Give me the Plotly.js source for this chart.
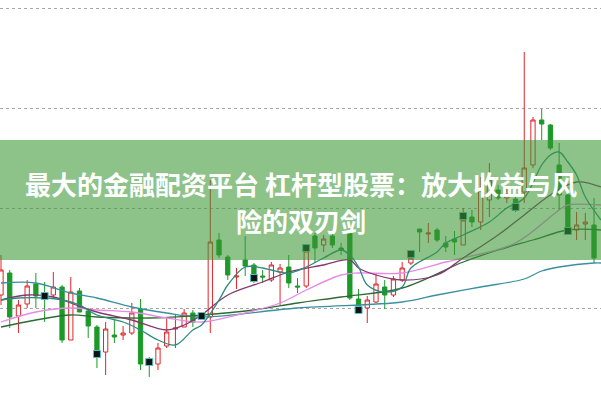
<!DOCTYPE html>
<html><head><meta charset="utf-8">
<script src="https://cdn.plot.ly/plotly-3.0.1.min.js"></script>
<style>html,body{margin:0;padding:0;background:#fff}#chart{width:601px;height:400px}</style>
</head><body><div id="chart"></div>
<script>
// candle index 0..68, prices in chart units
const openP  = [105,127,84,96,116,105,105,113,60,109,89,73,48,65,65,67,91,39,36,54,71,73,87,86,83,160,143,123,140,135,124,120,128,133,114,114,164,155,164,152,167,101,92,98,113,105,120,137,171,166,170,157,161,155,183,178,200,210,202,201,208,235,280,275,235,205,170,176,175];
const highP  = [145,130,100,120,127,118,128,115,123,112,92,75,78,80,74,97,101,43,57,83,85,91,90,88,220,167,145,132,164,137,130,138,136,145,122,155,167,165,166,157,167,111,104,126,120,124,138,150,171,177,172,164,169,192,190,223,237,215,214,208,348,283,291,276,257,213,188,187,202];
const lowP   = [95,72,67,92,92,78,102,57,60,88,62,32,25,57,60,65,30,23,30,52,52,73,73,80,67,142,120,111,124,117,117,118,95,112,107,112,137,148,152,145,100,88,77,97,91,103,118,135,148,157,158,148,145,155,173,170,183,200,197,188,197,232,260,250,190,168,160,160,137];
const closeP = [130,83,95,114,104,104,113,60,108,88,74,48,71,63,67,87,36,38,52,68,72,87,78,82,158,145,125,124,134,119,123,135,132,117,113,149,152,161,155,150,102,90,100,116,105,121,132,142,168,167,160,153,158,180,178,210,220,202,206,190,232,280,276,252,205,168,175,178,142];

// signal markers
const sigIdx = [5,11,17,23,29,35,41,47,53,59,65];
const sigVal = [104,46,38,84,122,152,90,146,184,193,169];

// moving averages (sampled at candle indices)
const ma5X = [0,2,5,7,9,11,14,16,18,20,22,23,25,26,28,30,31,33,35,37,39,40,41,42,44,46,47,50,51,53,56,58,60,62,63,64,65,66,67,68.8];
const ma5Y = [100,102,102,100,95,85,78,70,60,55,70,75,100,115,133,132,130,127,133,142,150,145,133,115,108,113,132,148,157,165,178,192,202,235,245,248,238,225,203,180];
const ma10X = [0,3,6,8,11,15,19,21,23,26,30,33,37,40,41,43,46,50,53,57,60,63,66,68.8];
const ma10Y = [100,105,103,97,88,80,70,75,85,105,118,128,135,140,132,125,120,125,142,165,185,205,218,213];
const ma20X = [0,4,8,11,15,19,23,27,32,35,39,41,46,51,53,59,64,65,68.8];
const ma20Y = [78,88,92,90,88,82,78,85,97,110,125,127,127,138,142,157,190,195,195];
const ma30X = [0,4,8,11,17,23,29,34,39,46,53,57,61,65,68.8];
const ma30Y = [73,80,85,83,82,85,90,97,103,112,138,150,160,170,170];
const ma60X = [0,4,8,11,15,19,23,34,46,50,55,60,62,64,68,68.8];
const ma60Y = [117,117,107,102,93,87,83,92,98,105,113,121,129,133,137,137];

const idx = openP.map((_, i) => i);
const traces = [
  {type:'candlestick', x: idx, open: openP, high: highP, low: lowP, close: closeP,
   increasing:{line:{color:'#e0262a', width:1}, fillcolor:'#ffffff'},
   decreasing:{line:{color:'#1c9a28', width:1}, fillcolor:'#1c9a28'},
   whiskerwidth:0, hoverinfo:'skip', showlegend:false},
  {type:'scatter', mode:'lines', x: ma60X, y: ma60Y, line:{color:'#3a90a0', width:1.3, shape:'spline'}, showlegend:false},
  {type:'scatter', mode:'lines', x: ma30X, y: ma30Y, line:{color:'#2e6a34', width:1.3, shape:'spline'}, showlegend:false},
  {type:'scatter', mode:'lines', x: ma20X, y: ma20Y, line:{color:'#e68ae6', width:1.3, shape:'spline'}, showlegend:false},
  {type:'scatter', mode:'lines', x: ma10X, y: ma10Y, line:{color:'#86386e', width:1.3, shape:'spline'}, showlegend:false},
  {type:'scatter', mode:'lines', x: ma5X, y: ma5Y, line:{color:'#2c8c80', width:1.3, shape:'spline'}, showlegend:false},
  {type:'scatter', mode:'markers', x: sigIdx, y: sigVal,
   marker:{symbol:'square', size:7, color:'#111111', line:{color:'#4fc3c8', width:1}}, showlegend:false}
];

const layout = {
  width:601, height:400,
  margin:{l:0, r:0, t:0, b:0},
  paper_bgcolor:'#ffffff', plot_bgcolor:'#ffffff',
  showlegend:false,
  xaxis:{range:[-0.115, 68.8], showgrid:false, zeroline:false, showticklabels:false, rangeslider:{visible:false}, fixedrange:true},
  yaxis:{range:[0,400], tickvals:[92,192,292,392], showticklabels:false, showgrid:true,
         gridcolor:'#a8a8a8', griddash:'dot', gridwidth:1, zeroline:false, fixedrange:true},
  shapes:[{type:'rect', xref:'paper', yref:'paper', x0:0, x1:1, y0:0.35, y1:0.65,
           fillcolor:'rgba(58,150,52,0.58)', line:{width:0}, layer:'above'}],
  annotations:[
    {xref:'paper', yref:'paper', x:0.5, y:0.5425, xanchor:'center', yanchor:'middle', showarrow:false,
     text:'最大的金融配资平台 杠杆型股票：放大收益与风',
     font:{family:'Noto Sans CJK SC', size:26, color:'#ffffff', weight:700}},
    {xref:'paper', yref:'paper', x:0.5, y:0.45, xanchor:'center', yanchor:'middle', showarrow:false,
     text:'险的双刃剑',
     font:{family:'Noto Sans CJK SC', size:26, color:'#ffffff', weight:700}}
  ]
};
Plotly.newPlot('chart', traces, layout, {displayModeBar:false, staticPlot:true});
</script></body></html>
